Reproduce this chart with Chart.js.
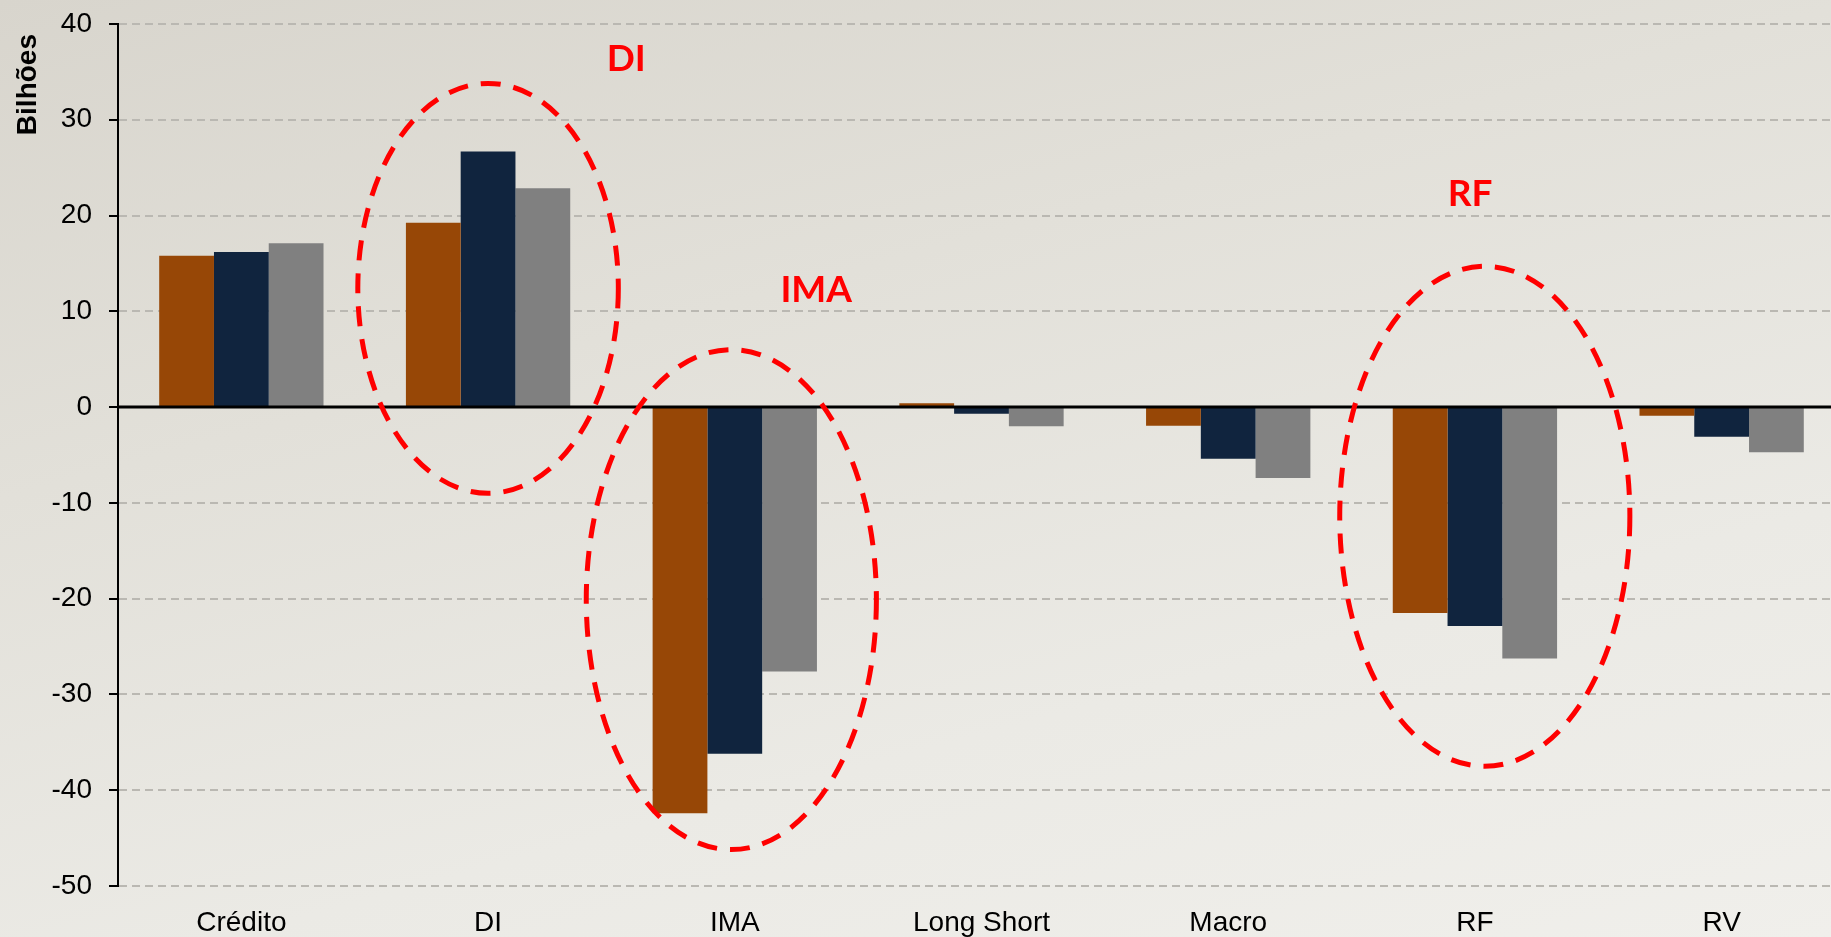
<!DOCTYPE html>
<html>
<head>
<meta charset="utf-8">
<script src="https://cdn.jsdelivr.net/npm/chart.js"></script>
<style>
  html, body { margin: 0; padding: 0; width: 1831px; height: 937px; overflow: hidden; }
  body { background: linear-gradient(165deg, #d8d5cd 0%, #e2e0d9 35%, #ebeae5 70%, #f0efeb 100%); }
  #wrap { position: absolute; left: 0; top: 0; width: 1845px; height: 945px; }
</style>
</head>
<body>
<div id="wrap"><canvas id="graficoFundos" width="1845" height="945"></canvas></div>
<script>
// captação por classe (bilhões)
const categorias = ['Crédito', 'DI', 'IMA', 'Long Short', 'Macro', 'RF', 'RV']
const serieLaranja = [15.8, 19.25, -42.4, 0.4, -1.95, -21.5, -0.9]
const serieAzul = [16.2, 26.7, -36.2, -0.7, -5.4, -22.85, -3.1]
const serieCinza = [17.1, 22.85, -27.6, -2.0, -7.4, -26.25, -4.7]
const ticksY = [-50, -40, -30, -20, -10, 0, 10, 20, 30, 40]

// elipses tracejadas e rótulos em vermelho (posição em unidades dos eixos)
const destaques = [
  { texto: 'DI', tx: 1.56, ty: 36.3, cx: 1.0, cy: 12.4, rx: 0.528, ry: 21.4 },
  { texto: 'IMA', tx: 2.33, ty: 12.2, cx: 1.986, cy: -20.1, rx: 0.588, ry: 26.1 },
  { texto: 'RF', tx: 4.98, ty: 22.2, cx: 5.04, cy: -11.4, rx: 0.588, ry: 26.1 }
]

const desenhoExtra = {
  id: 'desenhoExtra',
  afterDatasetsDraw(chart) {
    const ctx = chart.ctx
    const x = chart.scales.x, y = chart.scales.y
    const area = chart.chartArea
    const larguraCat = (area.right - area.left) / categorias.length
    const pxUnidade = Math.abs(y.getPixelForValue(1) - y.getPixelForValue(0))

    // linha do zero por cima das barras
    const y0 = y.getPixelForValue(0)
    ctx.save()
    ctx.strokeStyle = '#000'
    ctx.lineWidth = 3
    ctx.beginPath()
    ctx.moveTo(area.left, y0)
    ctx.lineTo(area.right, y0)
    ctx.stroke()

    // título do eixo y
    ctx.fillStyle = '#000'
    ctx.font = 'bold 28px "Liberation Sans", Arial, sans-serif'
    ctx.translate(36, 34)
    ctx.rotate(-Math.PI / 2)
    ctx.textAlign = 'right'
    ctx.textBaseline = 'alphabetic'
    ctx.fillText('Bilhões', 0, 0)
    ctx.restore()

    ctx.save()
    destaques.forEach(d => {
      ctx.strokeStyle = '#ff0000'
      ctx.lineWidth = 5
      ctx.setLineDash([20, 13])
      ctx.beginPath()
      ctx.ellipse(x.getPixelForValue(d.cx), y.getPixelForValue(d.cy),
        d.rx * larguraCat, d.ry * pxUnidade, 0, 0, Math.PI * 2)
      ctx.stroke()

      ctx.fillStyle = '#ff0000'
      ctx.font = 'bold 37px Lato, "Open Sans", sans-serif'
      ctx.textAlign = 'center'
      ctx.textBaseline = 'middle'
      ctx.fillText(d.texto, x.getPixelForValue(d.tx), y.getPixelForValue(d.ty))
    })
    ctx.restore()
  }
}

const graficoFundos = document.getElementById('graficoFundos')

new Chart(graficoFundos, {
  type: 'bar',
  data: {
    labels: categorias,
    datasets: [
      { label: 'Série 1', data: serieLaranja, backgroundColor: '#974706' },
      { label: 'Série 2', data: serieAzul, backgroundColor: '#10243e' },
      { label: 'Série 3', data: serieCinza, backgroundColor: '#808080' }
    ]
  },
  options: {
    responsive: false,
    animation: false,
    layout: { padding: { top: 24, right: 0, left: 0, bottom: 0 } },
    datasets: { bar: { categoryPercentage: 0.666, barPercentage: 1 } },
    plugins: { legend: { display: false }, tooltip: { enabled: false } },
    scales: {
      x: {
        grid: { display: false, drawTicks: false },
        border: { display: false },
        ticks: {
          color: '#000',
          padding: 20,
          maxRotation: 0,
          font: { family: '"Liberation Sans", Arial, sans-serif', size: 28 }
        },
        afterFit: s => { s.height = 59 }
      },
      y: {
        min: -50,
        max: 40,
        afterBuildTicks: s => { s.ticks = ticksY.map(v => ({ value: v })) },
        afterFit: s => {
          s.width = 118
          s.paddingTop = 0
          s.paddingBottom = 0
        },
        grid: {
          color: c => c.tick && c.tick.value === 0 ? '#000' : '#bab8b2',
          lineWidth: 2,
          tickLength: 9,
          tickColor: '#000',
          tickWidth: 2
        },
        border: { display: true, color: '#000', width: 2, dash: [8, 5] },
        ticks: {
          color: '#000',
          padding: 17,
          font: { family: '"Liberation Sans", Arial, sans-serif', size: 28 }
        }
      }
    }
  },
  plugins: [desenhoExtra]
})
</script>
</body>
</html>
